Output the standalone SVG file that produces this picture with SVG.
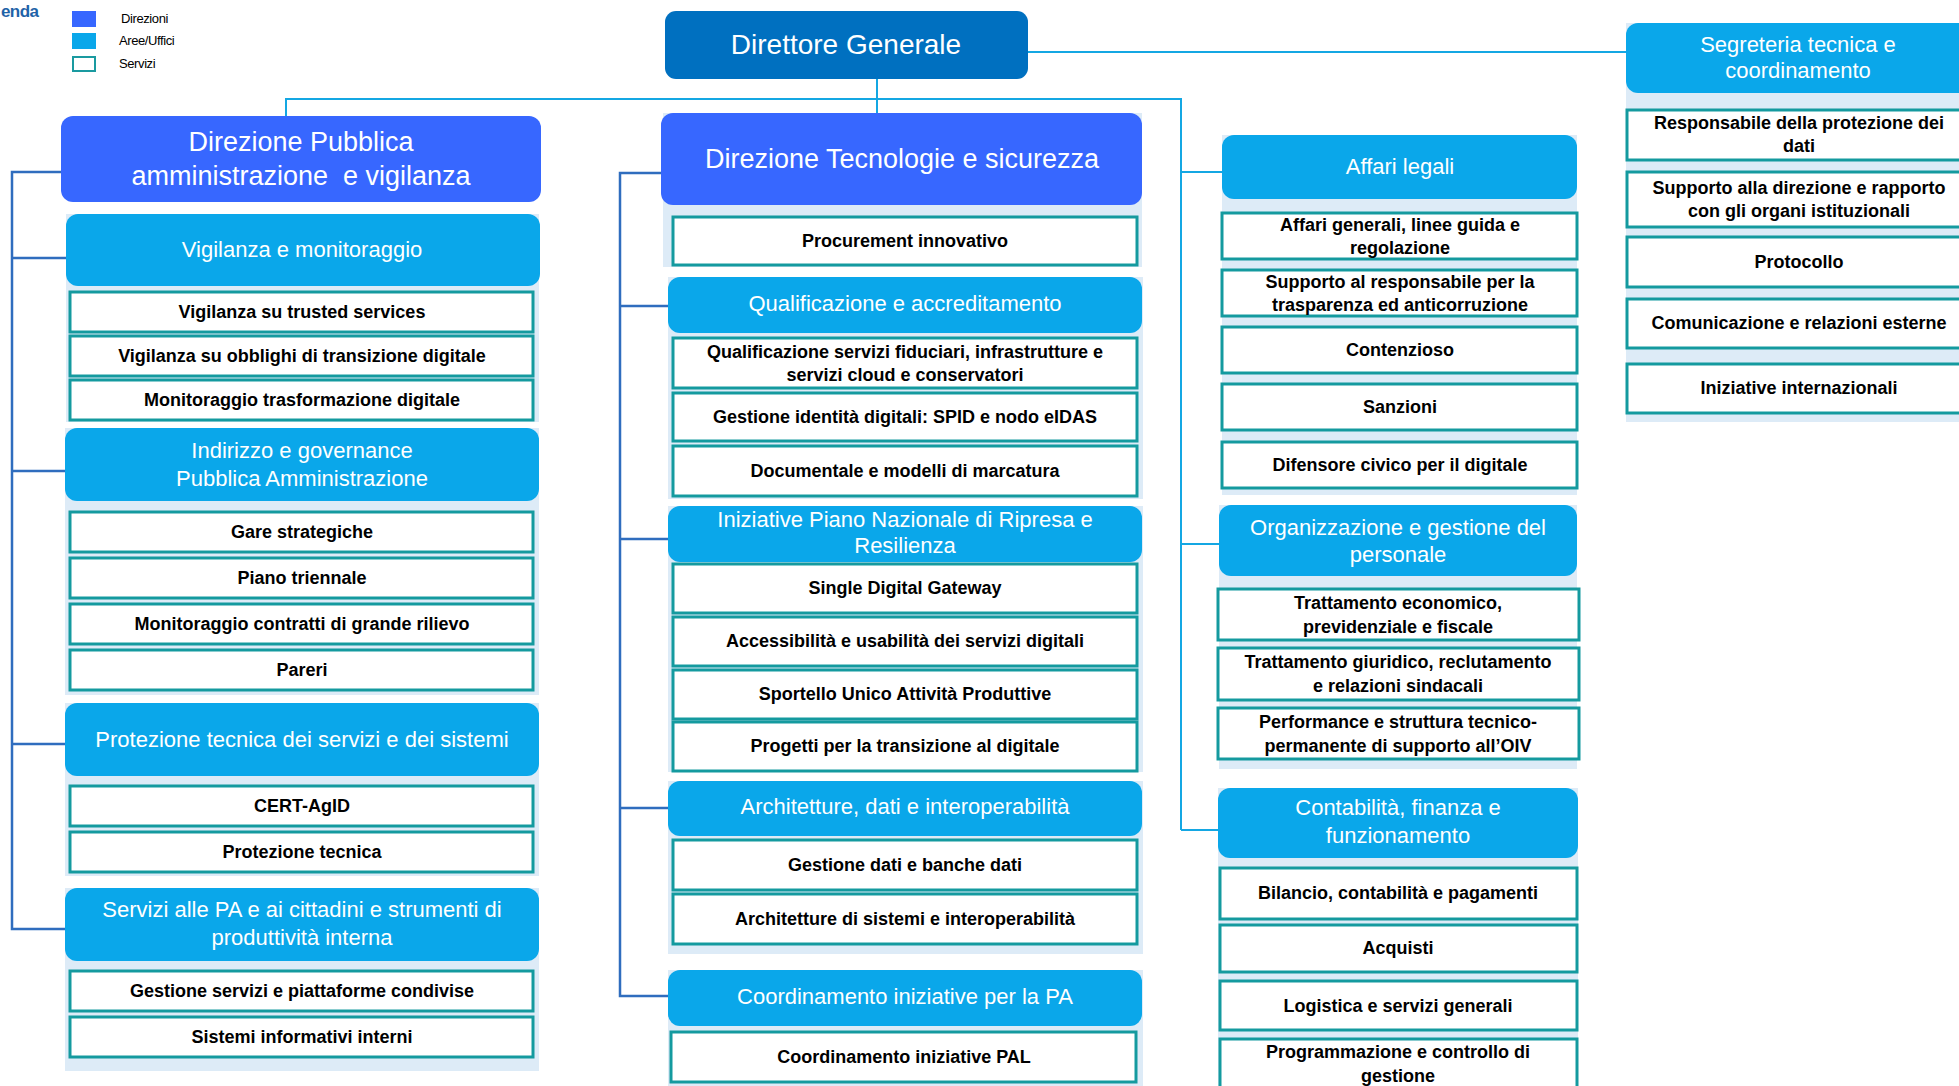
<svg xmlns="http://www.w3.org/2000/svg" width="1959" height="1086" viewBox="0 0 1959 1086">
<style>
text{font-family:"Liberation Sans",Arial,sans-serif;text-anchor:middle}
.dg{fill:#0070C0}
.dir{fill:#3767FF}
.area{fill:#0AA7EA}
.panel{fill:#DDEBF7}
.svc{fill:#fff;stroke:#149A9F;stroke-width:3}
.tdg{font-size:28px;fill:#fff}
.tdir{font-size:27px;fill:#fff}
.tarea{font-size:22px;fill:#fff}
.tsvc{font-size:18px;font-weight:bold;fill:#000}
.tleg{font-size:13px;fill:#000;text-anchor:start;letter-spacing:-0.4px}
.cd{stroke:#2F6DBE;stroke-width:2.5;fill:none}
.cc{stroke:#14A7E3;stroke-width:2;fill:none}
</style>
<rect width="1959" height="1086" fill="#fff"/>

<g id="legend">
<text x="1" y="17" style="font-size:17px;font-weight:bold;fill:#1F63A8;text-anchor:start;letter-spacing:-0.6px">enda</text>
<rect x="72" y="11" width="24" height="16" class="dir"/>
<rect x="72" y="33" width="24" height="16" class="area"/>
<rect x="73" y="57" width="22" height="14" fill="#fff" stroke="#1A9AA0" stroke-width="2"/>
<text x="121" y="23" class="tleg">Direzioni</text>
<text x="119" y="45" class="tleg">Aree/Uffici</text>
<text x="119" y="68" class="tleg">Servizi</text>
</g>

<g id="connectors">
<path class="cc" d="M1028 52H1626"/>
<path class="cc" d="M877 79V113"/>
<path class="cc" d="M286 116V99H1181V830"/>
<path class="cc" d="M1181 172H1222M1181 544H1219M1181 830H1218"/>
<path class="cd" d="M61 172H12V929H66M12 258H66M12 471H65M12 744H65"/>
<path class="cd" d="M661 173H620V996H668M620 306H668M620 539H668M620 808H668"/>
</g>

<g id="direttore-generale">
<rect x="665" y="11" width="363" height="68" rx="11" class="dg"/>
<text x="846" y="54" class="tdg">Direttore Generale</text>
</g>

<!-- Left column -->
<g id="direzione-pa">
<rect x="61" y="116" width="480" height="86" rx="12" class="dir"/>
<text x="301" y="151" class="tdir">Direzione Pubblica</text>
<text x="301" y="185" class="tdir" xml:space="preserve">amministrazione  e vigilanza</text>
</g>

<g id="vigilanza-monitoraggio">
<rect x="66" y="214" width="473" height="208" class="panel"/>
<rect x="66" y="214" width="474" height="72" rx="12" class="area"/>
<text x="302" y="257" class="tarea">Vigilanza e monitoraggio</text>
</g>
<g id="svc-trusted"><rect x="70" y="292" width="463" height="40" class="svc"/><text x="302" y="318" class="tsvc">Vigilanza su trusted services</text></g>
<g id="svc-obblighi"><rect x="70" y="336" width="463" height="40" class="svc"/><text x="302" y="362" class="tsvc">Vigilanza su obblighi di transizione digitale</text></g>
<g id="svc-monitoraggio-trasf"><rect x="70" y="380" width="463" height="40" class="svc"/><text x="302" y="406" class="tsvc">Monitoraggio trasformazione digitale</text></g>

<g id="indirizzo-governance">
<rect x="65" y="428" width="474" height="267" class="panel"/>
<rect x="65" y="428" width="474" height="73" rx="12" class="area"/>
<text x="302" y="458" class="tarea">Indirizzo e governance</text>
<text x="302" y="486" class="tarea">Pubblica Amministrazione</text>
</g>
<g id="svc-gare"><rect x="70" y="512" width="463" height="40" class="svc"/><text x="302" y="538" class="tsvc">Gare strategiche</text></g>
<g id="svc-piano"><rect x="70" y="558" width="463" height="40" class="svc"/><text x="302" y="584" class="tsvc">Piano triennale</text></g>
<g id="svc-contratti"><rect x="70" y="604" width="463" height="40" class="svc"/><text x="302" y="630" class="tsvc">Monitoraggio contratti di grande rilievo</text></g>
<g id="svc-pareri"><rect x="70" y="650" width="463" height="40" class="svc"/><text x="302" y="676" class="tsvc">Pareri</text></g>

<g id="protezione-tecnica-area">
<rect x="65" y="703" width="474" height="173" class="panel"/>
<rect x="65" y="703" width="474" height="73" rx="12" class="area"/>
<text x="302" y="747" class="tarea">Protezione tecnica dei servizi e dei sistemi</text>
</g>
<g id="svc-cert"><rect x="70" y="786" width="463" height="40" class="svc"/><text x="302" y="812" class="tsvc">CERT-AgID</text></g>
<g id="svc-protezione"><rect x="70" y="832" width="463" height="40" class="svc"/><text x="302" y="858" class="tsvc">Protezione tecnica</text></g>

<g id="servizi-pa">
<rect x="65" y="888" width="474" height="183" class="panel"/>
<rect x="65" y="888" width="474" height="73" rx="12" class="area"/>
<text x="302" y="917" class="tarea">Servizi alle PA e ai cittadini e strumenti di</text>
<text x="302" y="945" class="tarea">produttività interna</text>
</g>
<g id="svc-piattaforme"><rect x="70" y="971" width="463" height="40" class="svc"/><text x="302" y="997" class="tsvc">Gestione servizi e piattaforme condivise</text></g>
<g id="svc-sistemi"><rect x="70" y="1017" width="463" height="40" class="svc"/><text x="302" y="1043" class="tsvc">Sistemi informativi interni</text></g>

<!-- Middle column -->
<g id="direzione-tecnologie">
<rect x="663" y="113" width="479" height="154" class="panel"/>
<rect x="661" y="113" width="481" height="92" rx="12" class="dir"/>
<text x="902" y="168" class="tdir">Direzione Tecnologie e sicurezza</text>
</g>
<g id="svc-procurement"><rect x="673" y="217" width="464" height="48" class="svc"/><text x="905" y="247" class="tsvc">Procurement innovativo</text></g>

<g id="qualificazione">
<rect x="668" y="277" width="475" height="222" class="panel"/>
<rect x="668" y="277" width="474" height="56" rx="12" class="area"/>
<text x="905" y="311" class="tarea">Qualificazione e accreditamento</text>
</g>
<g id="svc-fiduciari"><rect x="673" y="338" width="464" height="50" class="svc"/><text x="905" y="358" class="tsvc">Qualificazione servizi fiduciari, infrastrutture e</text><text x="905" y="381" class="tsvc">servizi cloud e conservatori</text></g>
<g id="svc-spid"><rect x="673" y="393" width="464" height="48" class="svc"/><text x="905" y="423" class="tsvc">Gestione identità digitali: SPID e nodo eIDAS</text></g>
<g id="svc-documentale"><rect x="673" y="446" width="464" height="50" class="svc"/><text x="905" y="477" class="tsvc">Documentale e modelli di marcatura</text></g>

<g id="pnrr">
<rect x="668" y="506" width="475" height="266" class="panel"/>
<rect x="668" y="506" width="474" height="56" rx="12" class="area"/>
<text x="905" y="527" class="tarea">Iniziative Piano Nazionale di Ripresa e</text>
<text x="905" y="553" class="tarea">Resilienza</text>
</g>
<g id="svc-sdg"><rect x="673" y="564" width="464" height="49" class="svc"/><text x="905" y="594" class="tsvc">Single Digital Gateway</text></g>
<g id="svc-accessibilita"><rect x="673" y="617" width="464" height="49" class="svc"/><text x="905" y="647" class="tsvc">Accessibilità e usabilità dei servizi digitali</text></g>
<g id="svc-suap"><rect x="673" y="670" width="464" height="49" class="svc"/><text x="905" y="700" class="tsvc">Sportello Unico Attività Produttive</text></g>
<g id="svc-progetti"><rect x="673" y="722" width="464" height="49" class="svc"/><text x="905" y="752" class="tsvc">Progetti per la transizione al digitale</text></g>

<g id="architetture">
<rect x="668" y="781" width="475" height="173" class="panel"/>
<rect x="668" y="781" width="474" height="55" rx="12" class="area"/>
<text x="905" y="814" class="tarea">Architetture, dati e interoperabilità</text>
</g>
<g id="svc-dati"><rect x="673" y="840" width="464" height="50" class="svc"/><text x="905" y="871" class="tsvc">Gestione dati e banche dati</text></g>
<g id="svc-architetture"><rect x="673" y="894" width="464" height="50" class="svc"/><text x="905" y="925" class="tsvc">Architetture di sistemi e interoperabilità</text></g>

<g id="coordinamento-pa">
<rect x="668" y="970" width="475" height="116" class="panel"/>
<rect x="668" y="970" width="474" height="56" rx="12" class="area"/>
<text x="905" y="1004" class="tarea">Coordinamento iniziative per la PA</text>
</g>
<g id="svc-pal"><rect x="671" y="1032" width="465" height="50" class="svc"/><text x="904" y="1063" class="tsvc">Coordinamento iniziative PAL</text></g>

<!-- Right-centre column -->
<g id="affari-legali">
<rect x="1222" y="135" width="355" height="360" class="panel"/>
<rect x="1222" y="135" width="355" height="64" rx="12" class="area"/>
<text x="1400" y="174" class="tarea">Affari legali</text>
</g>
<g id="svc-affari-generali"><rect x="1222" y="213" width="355" height="46" class="svc"/><text x="1400" y="231" class="tsvc">Affari generali, linee guida e</text><text x="1400" y="254" class="tsvc">regolazione</text></g>
<g id="svc-trasparenza"><rect x="1222" y="270" width="355" height="46" class="svc"/><text x="1400" y="288" class="tsvc">Supporto al responsabile per la</text><text x="1400" y="311" class="tsvc">trasparenza ed anticorruzione</text></g>
<g id="svc-contenzioso"><rect x="1222" y="327" width="355" height="46" class="svc"/><text x="1400" y="356" class="tsvc">Contenzioso</text></g>
<g id="svc-sanzioni"><rect x="1222" y="384" width="355" height="46" class="svc"/><text x="1400" y="413" class="tsvc">Sanzioni</text></g>
<g id="svc-difensore"><rect x="1222" y="442" width="355" height="46" class="svc"/><text x="1400" y="471" class="tsvc">Difensore civico per il digitale</text></g>

<g id="organizzazione">
<rect x="1219" y="505" width="358" height="264" class="panel"/>
<rect x="1219" y="505" width="358" height="71" rx="12" class="area"/>
<text x="1398" y="535" class="tarea">Organizzazione e gestione del</text>
<text x="1398" y="562" class="tarea">personale</text>
</g>
<g id="svc-economico"><rect x="1218" y="589" width="361" height="51" class="svc"/><text x="1398" y="609" class="tsvc">Trattamento economico,</text><text x="1398" y="633" class="tsvc">previdenziale e fiscale</text></g>
<g id="svc-giuridico"><rect x="1218" y="648" width="361" height="52" class="svc"/><text x="1398" y="668" class="tsvc">Trattamento giuridico, reclutamento</text><text x="1398" y="692" class="tsvc">e relazioni sindacali</text></g>
<g id="svc-performance"><rect x="1218" y="708" width="361" height="51" class="svc"/><text x="1398" y="728" class="tsvc">Performance e struttura tecnico-</text><text x="1398" y="752" class="tsvc">permanente di supporto all’OIV</text></g>

<g id="contabilita">
<rect x="1218" y="788" width="360" height="298" class="panel"/>
<rect x="1218" y="788" width="360" height="70" rx="12" class="area"/>
<text x="1398" y="815" class="tarea">Contabilità, finanza e</text>
<text x="1398" y="843" class="tarea">funzionamento</text>
</g>
<g id="svc-bilancio"><rect x="1220" y="868" width="357" height="51" class="svc"/><text x="1398" y="899" class="tsvc">Bilancio, contabilità e pagamenti</text></g>
<g id="svc-acquisti"><rect x="1220" y="925" width="357" height="47" class="svc"/><text x="1398" y="954" class="tsvc">Acquisti</text></g>
<g id="svc-logistica"><rect x="1220" y="981" width="357" height="49" class="svc"/><text x="1398" y="1012" class="tsvc">Logistica e servizi generali</text></g>
<g id="svc-programmazione"><rect x="1220" y="1039" width="357" height="55" class="svc"/><text x="1398" y="1058" class="tsvc">Programmazione e controllo di</text><text x="1398" y="1082" class="tsvc">gestione</text></g>

<!-- Far right column -->
<g id="segreteria">
<rect x="1626" y="23" width="340" height="399" class="panel"/>
<rect x="1626" y="23" width="350" height="70" rx="12" class="area"/>
<text x="1798" y="52" class="tarea">Segreteria tecnica e</text>
<text x="1798" y="78" class="tarea">coordinamento</text>
</g>
<g id="svc-dpo"><rect x="1627" y="110" width="345" height="50" class="svc"/><text x="1799" y="129" class="tsvc">Responsabile della protezione dei</text><text x="1799" y="152" class="tsvc">dati</text></g>
<g id="svc-supporto-direzione"><rect x="1627" y="172" width="345" height="55" class="svc"/><text x="1799" y="194" class="tsvc">Supporto alla direzione e rapporto</text><text x="1799" y="217" class="tsvc">con gli organi istituzionali</text></g>
<g id="svc-protocollo"><rect x="1627" y="237" width="345" height="50" class="svc"/><text x="1799" y="268" class="tsvc">Protocollo</text></g>
<g id="svc-comunicazione"><rect x="1627" y="299" width="345" height="49" class="svc"/><text x="1799" y="329" class="tsvc">Comunicazione e relazioni esterne</text></g>
<g id="svc-internazionali"><rect x="1627" y="364" width="345" height="49" class="svc"/><text x="1799" y="394" class="tsvc">Iniziative internazionali</text></g>
</svg>
